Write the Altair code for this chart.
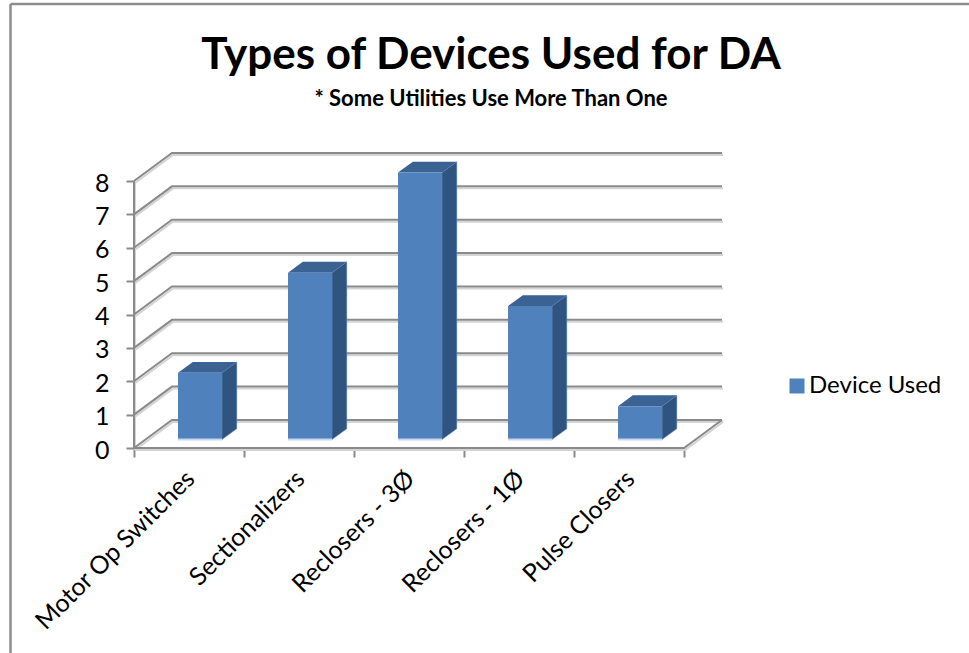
import altair as alt
import pandas as pd

# Chart content
TITLE = "Types of Devices Used for DA"
SUBTITLE = "* Some Utilities Use More Than One"
CATEGORIES = ["Motor Op Switches", "Sectionalizers", "Reclosers - 3Ø", "Reclosers - 1Ø", "Pulse Closers"]
VALUES = [2, 5, 8, 4, 1]
SERIES = "Device Used"
TICKS = list(range(9))

# Oblique projection: how far one full unit of depth shifts x (categories) and y (value units)
DEPTH_X = 0.345
DEPTH_Y = 0.84
# Column placement inside a category slot, and its extent along the depth axis
BAR_START = 0.40
BAR_WIDTH = 0.40
BAR_Z0 = 0.30
BAR_Z1 = 0.69

FONT = "Lato"
GRID = "#8a8a8a"
SHADOW = "#d4d4d4"
N = len(CATEGORIES)


def grid_rows():
    rows = []
    for t in TICKS:
        rows += [
            dict(line=f"g{t}", step=0, x=0, y=t),
            dict(line=f"g{t}", step=1, x=DEPTH_X, y=t + DEPTH_Y),
            dict(line=f"g{t}", step=2, x=N + DEPTH_X, y=t + DEPTH_Y),
        ]
    # Value axis, front floor edge and right floor edge
    rows += [dict(line="axis", step=0, x=0, y=TICKS[-1]), dict(line="axis", step=1, x=0, y=0)]
    rows += [
        dict(line="floor", step=0, x=0, y=0),
        dict(line="floor", step=1, x=N, y=0),
        dict(line="floor", step=2, x=N + DEPTH_X, y=DEPTH_Y),
    ]
    return pd.DataFrame(rows)


front, side, top = [], [], []
for i, (cat, v) in enumerate(zip(CATEGORIES, VALUES)):
    left = i + BAR_START
    right = left + BAR_WIDTH
    y0, y1 = BAR_Z0 * DEPTH_Y, BAR_Z1 * DEPTH_Y
    dx = (BAR_Z1 - BAR_Z0) * DEPTH_X
    front.append(dict(cat=cat, series=SERIES, x=left, x2=right, y=y0, y2=v + y0))
    side += [
        dict(cat=cat, x=right, y=y0, y2=v + y0),
        dict(cat=cat, x=right + dx, y=y1, y2=v + y1),
    ]
    top += [
        dict(cat=cat, x=left, x2=right, y=v + y0),
        dict(cat=cat, x=left + dx, x2=right + dx, y=v + y1),
    ]
front, side, top = pd.DataFrame(front), pd.DataFrame(side), pd.DataFrame(top)
labels = pd.DataFrame({"cat": CATEGORIES, "x": [i + 0.5 for i in range(N)], "y": [0] * N})

x_scale = alt.Scale(domain=[0, N + DEPTH_X], nice=False, zero=False)
y_scale = alt.Scale(domain=[0, TICKS[-1] + DEPTH_Y], nice=False, zero=False)
X = alt.X("x:Q", scale=x_scale, axis=alt.Axis(
    values=list(range(N + 1)), labels=False, title=None, domain=False, grid=False,
    tickColor=GRID, tickWidth=2, tickSize=9))
Y = alt.Y("y:Q", scale=y_scale, axis=alt.Axis(
    values=TICKS, title=None, domain=False, grid=False, tickColor=GRID, tickWidth=2,
    tickSize=8, labelFont=FONT, labelFontSize=25, labelColor="#000000", labelPadding=17,
    labelOffset=2, format="d"))

grid = grid_rows()
shadow_lines = alt.Chart(grid).mark_line(stroke=SHADOW, strokeWidth=2, yOffset=2, xOffset=1).encode(
    x=X, y=Y, detail="line:N", order="step:Q")
grid_lines = alt.Chart(grid).mark_line(stroke=GRID, strokeWidth=2).encode(
    x=X, y=Y, detail="line:N", order="step:Q")

side_faces = alt.Chart(side).mark_area(orient="vertical", color="#2f5480", stroke="#6f93bd", strokeWidth=0.5).encode(
    x=X, y=Y, y2="y2:Q", detail="cat:N")
top_faces = alt.Chart(top).mark_area(orient="horizontal", color="#3a6292").encode(
    x=X, x2="x2:Q", y=Y, detail="cat:N")
front_faces = alt.Chart(front).mark_rect().encode(
    x=X, x2="x2:Q", y=Y, y2="y2:Q",
    color=alt.Color("series:N", title=None, scale=alt.Scale(domain=[SERIES], range=["#4f81bd"]), legend=alt.Legend(
        orient="none", legendX=651, legendY=221, symbolType="square", symbolSize=225,
        symbolStrokeWidth=0, labelFont=FONT, labelFontSize=24, labelColor="#000000", labelOffset=0)),
)
base_edges = alt.Chart(front).mark_rule(stroke="#c6d8ec", strokeWidth=2).encode(
    x=X, x2="x2:Q", y=Y)

cat_labels = alt.Chart(labels).mark_text(
    font=FONT, fontSize=25, color="#000000", align="right", baseline="middle", angle=315, dx=-18, dy=20
).encode(x=X, y=Y, text="cat:N")

# Outer chart frame, running off the right and bottom of the page
one = pd.DataFrame({"k": [0]})
frame = alt.layer(
    alt.Chart(one).mark_rule(stroke="#8c8c8c", strokeWidth=2.5).encode(
        x=alt.value(-123.5), y=alt.value(-149), y2=alt.value(520)),
    alt.Chart(one).mark_rule(stroke="#8c8c8c", strokeWidth=2.5).encode(
        x=alt.value(-123.5), x2=alt.value(850), y=alt.value(-149)),
)

# Heading lines sit in the page's upper band, centred over the whole chart
heading = alt.layer(
    alt.Chart(pd.DataFrame({"t": [TITLE]})).mark_text(
        font=FONT, fontSize=44, fontWeight="bold", color="#000000", align="center", baseline="alphabetic"
    ).encode(x=alt.value(357), y=alt.value(-84), text="t:N"),
    alt.Chart(pd.DataFrame({"t": [SUBTITLE]})).mark_text(
        font=FONT, fontSize=22, fontWeight="bold", color="#000000", align="center", baseline="alphabetic"
    ).encode(x=alt.value(357), y=alt.value(-47), text="t:N"),
)

chart = alt.layer(
    frame, heading, shadow_lines, grid_lines, side_faces, top_faces, front_faces, base_edges, cat_labels
).properties(
    width=588,
    height=295,
    padding={"left": 134, "top": 153, "right": 247, "bottom": 205},
    autosize=alt.AutoSizeParams(type="none"),
    background="#ffffff",
).configure_view(stroke=None)

chart.save("out.html", embed_options={"renderer": "svg", "actions": False})
